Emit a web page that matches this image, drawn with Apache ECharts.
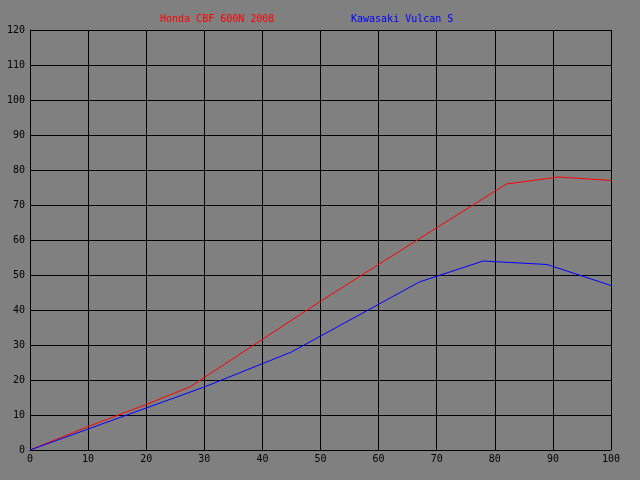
<!DOCTYPE html>
<html>
<head>
<meta charset="utf-8">
<script src="https://cdn.jsdelivr.net/npm/echarts@6/dist/echarts.min.js"></script>
<style>
html,body{margin:0;padding:0;background:#808080;}
#c{width:640px;height:480px;}
</style>
</head>
<body>
<div id="c"></div>
<script>
var seriesNames = ['Honda CBF 600N 2008', 'Kawasaki Vulcan S'];
var hondaData = [[0,0],[10,6.7],[20,13],[27.5,18],[50,42.5],[70,63.5],[82,76],[91,78],[100,77]];
var kawasakiData = [[0,0],[10,6],[20,12],[30,18],[45,28],[67,48],[78,54],[89,53],[100,47]];
var xTicks = {min:0, max:100, interval:10};
var yTicks = {min:0, max:120, interval:10};

var font = 'DejaVu Sans Mono';
var chart = echarts.init(document.getElementById('c'), null, {renderer:'canvas'});
chart.setOption({
  backgroundColor:'#808080',
  animation:false,
  legend:[
    {data:[seriesNames[0]], left:150, top:8, itemWidth:0, itemHeight:12, itemGap:0, icon:'rect',
     textStyle:{color:'#ff0000', fontFamily:font, fontSize:10}},
    {data:[seriesNames[1]], left:341, top:8, itemWidth:0, itemHeight:12, itemGap:0, icon:'rect',
     textStyle:{color:'#0000ff', fontFamily:font, fontSize:10}}
  ],
  grid:{left:30, right:29, top:30, bottom:30, show:false},
  xAxis:{
    type:'value', min:xTicks.min, max:xTicks.max, interval:xTicks.interval,
    axisLine:{show:true, lineStyle:{color:'#000', width:1}},
    axisTick:{show:false},
    splitLine:{show:true, lineStyle:{color:'#000', width:1}},
    axisLabel:{color:'#000', fontFamily:font, fontSize:10, margin:4}
  },
  yAxis:{
    type:'value', min:yTicks.min, max:yTicks.max, interval:yTicks.interval,
    axisLine:{show:true, lineStyle:{color:'#000', width:1}},
    axisTick:{show:false},
    splitLine:{show:true, lineStyle:{color:'#000', width:1}},
    axisLabel:{color:'#000', fontFamily:font, fontSize:10, margin:5}
  },
  series:[
    {name:seriesNames[0], type:'line', data:hondaData, showSymbol:false, symbol:'none',
     lineStyle:{color:'#ff0000', width:1}, itemStyle:{color:'#ff0000'}},
    {name:seriesNames[1], type:'line', data:kawasakiData, showSymbol:false, symbol:'none',
     lineStyle:{color:'#0000ff', width:1}, itemStyle:{color:'#0000ff'}}
  ]
});
</script>
</body>
</html>
